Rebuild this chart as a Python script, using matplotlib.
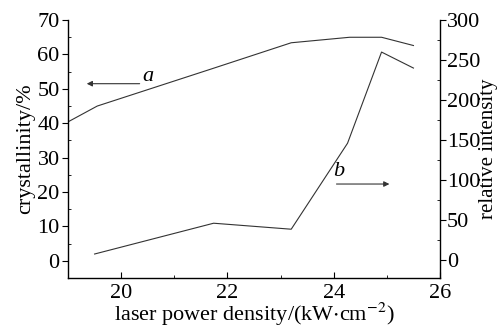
import matplotlib.pyplot as plt
from matplotlib.ticker import MultipleLocator

plt.rcParams['font.family'] = 'serif'
plt.rcParams['font.serif'] = ['Liberation Serif', 'DejaVu Serif']
plt.rcParams['mathtext.fontset'] = 'stix'

# Kurve a: Kristallinität (linke Achse)
power_a = [19.0, 19.55, 21.7, 23.2, 24.3, 24.9, 25.5]
crystallinity = [40.4, 45.0, 55.8, 63.4, 65.0, 65.0, 62.6]

# Kurve b: relative Intensität (rechte Achse)
power_b = [19.5, 21.74, 23.2, 24.26, 24.9, 25.5]
intensity = [7.5, 46.0, 38.5, 146.0, 260.0, 240.0]

fig = plt.figure(figsize=(5.02, 3.29), dpi=100)
ax = fig.add_axes([0.1355, 0.155, 0.741, 0.784])
ax2 = ax.twinx()

ax.plot(power_a, crystallinity, color='#333333', lw=0.8)
ax2.plot(power_b, intensity, color='#333333', lw=0.8)

ax.set_xlim(19, 26)
ax.set_ylim(-5, 70)
ax2.set_ylim(-22.5, 300)

ax.xaxis.set_major_locator(MultipleLocator(2))
ax.xaxis.set_minor_locator(MultipleLocator(1))
ax.yaxis.set_major_locator(MultipleLocator(10))
ax.yaxis.set_minor_locator(MultipleLocator(5))
ax2.yaxis.set_major_locator(MultipleLocator(50))
ax2.yaxis.set_minor_locator(MultipleLocator(25))

for a in (ax, ax2):
    a.spines['top'].set_visible(False)
    for s in a.spines.values():
        s.set_linewidth(1.0)
ax.spines['right'].set_visible(False)
ax2.spines['left'].set_visible(False)
ax2.spines['bottom'].set_visible(False)

ax.tick_params(axis='x', which='major', direction='in', length=4, labelsize=16, pad=4)
ax.tick_params(axis='x', which='minor', direction='in', length=2)
ax.tick_params(axis='y', which='major', direction='out', length=4, labelsize=16, pad=2)
ax.tick_params(axis='y', which='minor', direction='in', length=2)
ax2.tick_params(axis='y', which='major', direction='out', length=4, labelsize=16, pad=1)
ax2.tick_params(axis='y', which='minor', direction='in', length=2)

ax.set_xlabel('laser power density/(kW$\\cdot$cm$^{-2}$)', fontsize=16, labelpad=-1)
ax.set_ylabel('crystallinity/%', fontsize=16, labelpad=2)
ax2.set_ylabel('relative intensity', fontsize=15, labelpad=-1)

# Beschriftungen mit Pfeilen
ax.annotate('', xy=(19.3, 51.5), xytext=(20.4, 51.5),
            arrowprops=dict(arrowstyle='-|>', color='#333333', lw=0.8, mutation_scale=8))
ax.text(20.5, 53.5, 'a', fontsize=16, style='italic', ha='center', va='center')
ax2.annotate('', xy=(25.1, 95), xytext=(24.0, 95),
             arrowprops=dict(arrowstyle='-|>', color='#333333', lw=0.8, mutation_scale=8))
ax2.text(24.1, 111, 'b', fontsize=16, style='italic', ha='center', va='center')

fig.savefig('out.png', dpi=100, facecolor='white')
